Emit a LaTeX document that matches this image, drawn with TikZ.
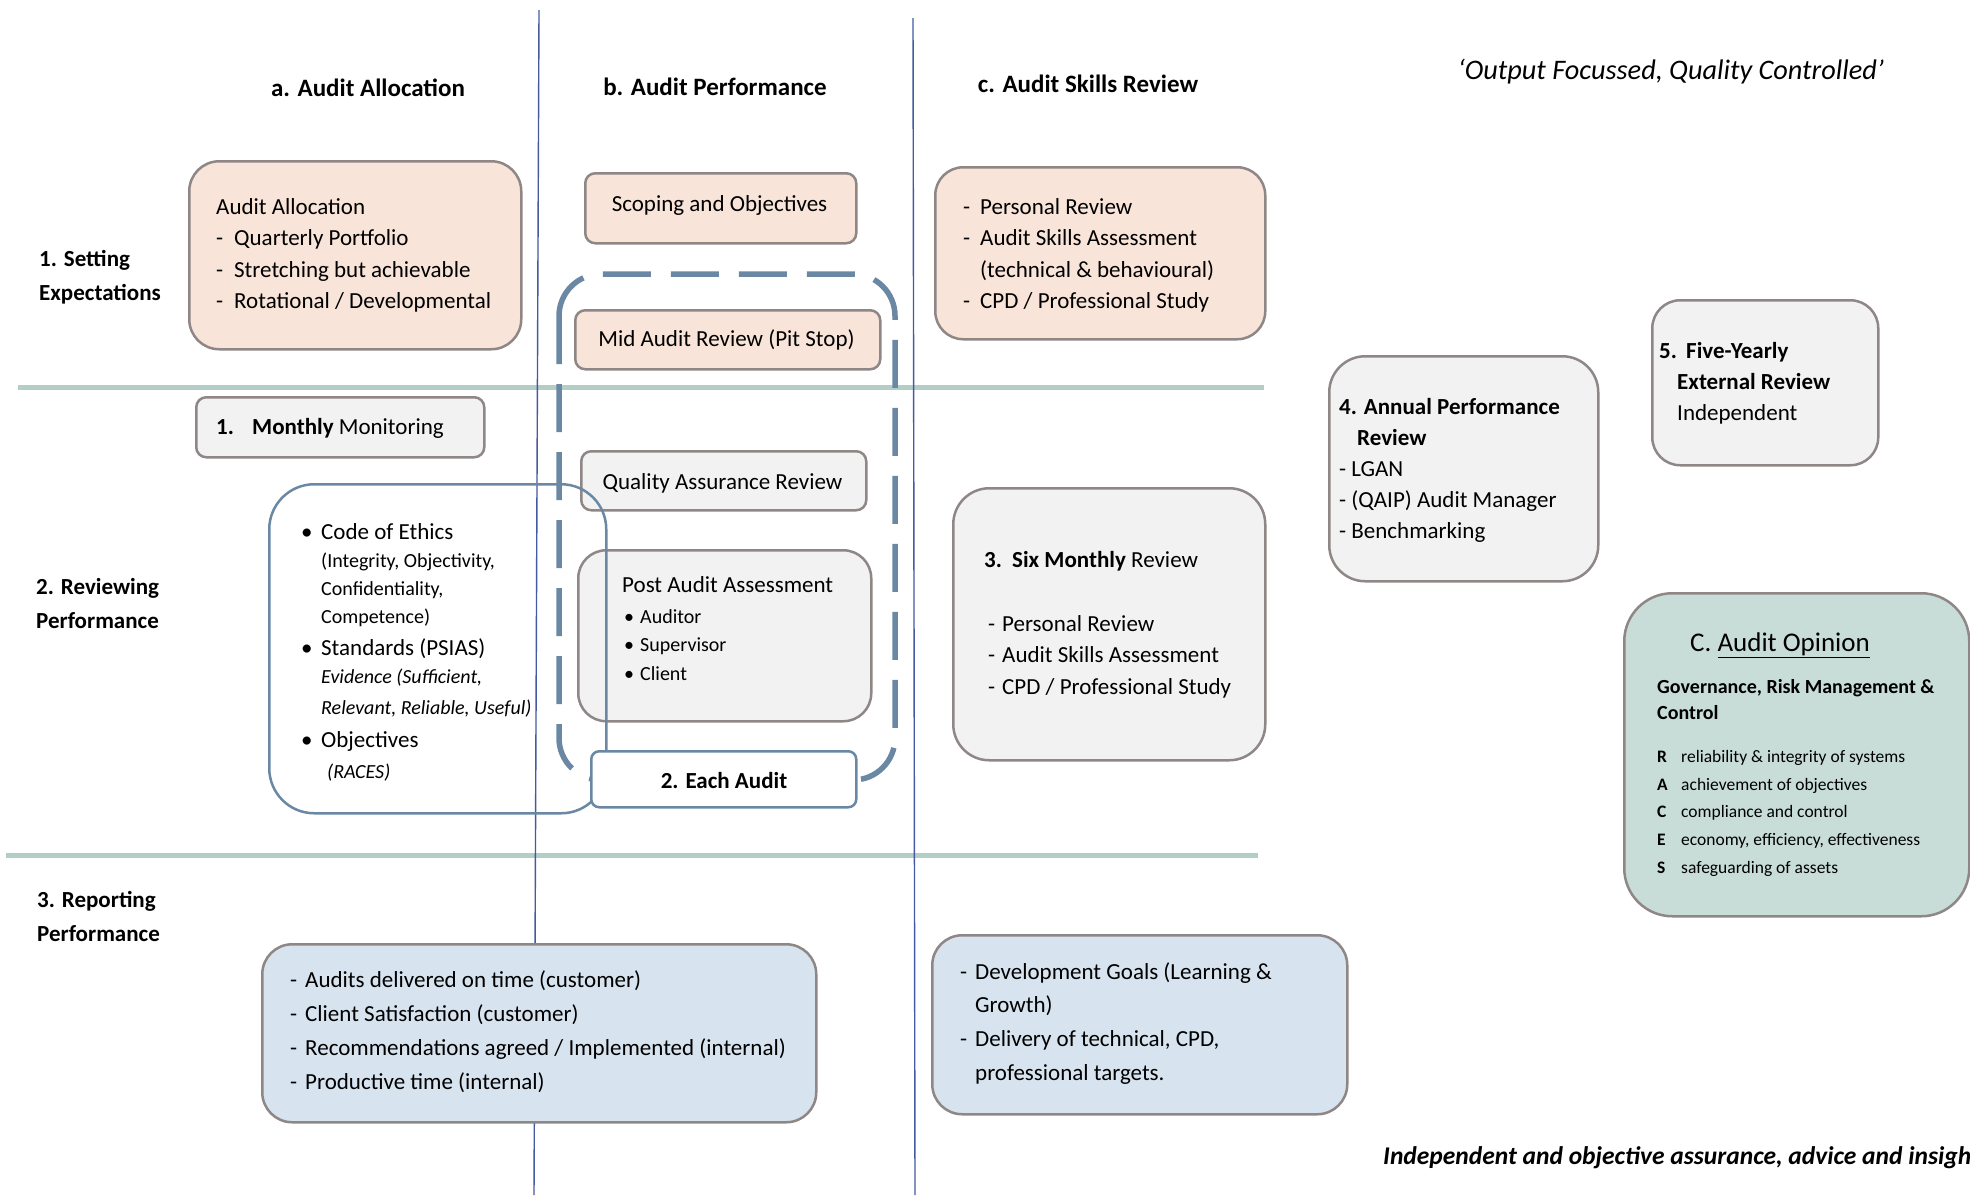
\documentclass[tikz,border=0pt]{standalone}
\usepackage{fontspec}
\setmainfont{Carlito}
\definecolor{peach}{HTML}{F8E4D8}
\definecolor{grayfill}{HTML}{F2F2F2}
\definecolor{bluefill}{HTML}{D7E3EE}
\definecolor{greenfill}{HTML}{C9DDD8}
\definecolor{bordc}{HTML}{8F8686}
\definecolor{steel}{HTML}{6A88A3}
\definecolor{vline}{HTML}{4459A0}
\definecolor{hline}{HTML}{B3CEC7}
\newcommand\dsh[1][18pt]{\makebox[#1][l]{-}}
\newcommand\bul[1][13pt]{\makebox[#1][l]{•}}
\tikzset{
  box/.style={draw=bordc, line width=2.5pt, inner sep=0pt, anchor=north west},
  ml/.style={inner sep=0pt, anchor=north west, align=left},
  tx/.style={inner sep=0pt, anchor=base west, font=\fontsize{23pt}{31.5pt}\selectfont},
  txs/.style={inner sep=0pt, anchor=base west, font=\fontsize{20pt}{28pt}\selectfont},
  hdr/.style={inner sep=0pt, font=\fontsize{25pt}{30pt}\selectfont\bfseries},
  sep/.style={draw=hline, line width=5pt},
  col/.style={draw=vline, line width=1.4pt},
  dashedb/.style={draw=steel, line width=5.5pt, dash pattern=on 48pt off 20pt}
}
\begin{document}
\begin{tikzpicture}[x=1pt,y=-1pt]
\useasboundingbox (0,0) rectangle (1970,1195);
\clip (0,0) rectangle (1970,1195);

% separator lines
\coordinate (h1a) at (18,387); \coordinate (h1b) at (1264,387);
\coordinate (h2a) at (6,855);  \coordinate (h2b) at (1258,855);
\draw[sep] (h1a) -- (h1b);
\draw[sep] (h2a) -- (h2b);
\coordinate (v1a) at (539,10); \coordinate (v1b) at (534,1195);
\coordinate (v2a) at (913,18); \coordinate (v2b) at (915,1195);
\draw[col] (v1a) -- (v1b);
\draw[col] (v2a) -- (v2b);

% dashed "each audit" loop
\coordinate (dl) at (559,274); \coordinate (dr) at (895,780);
\draw[dashedb, rounded corners=42pt] (dl) rectangle (dr);

% boxes
\node[box, fill=peach, rounded corners=30pt, minimum width=332pt, minimum height=188pt] (aabox) at (188,160) {};
\node[box, fill=peach, rounded corners=10pt, minimum width=271pt, minimum height=70pt] (scbox) at (584,172) {};
\node[box, fill=peach, rounded corners=10pt, minimum width=305pt, minimum height=59pt] (mabox) at (574,309) {};
\node[box, fill=peach, rounded corners=28pt, minimum width=330pt, minimum height=172pt] (asbox) at (934,166) {};
\node[box, fill=grayfill, rounded corners=10pt, minimum width=288pt, minimum height=60pt] (mmbox) at (195,396) {};
\node[box, fill=grayfill, rounded corners=10pt, minimum width=285pt, minimum height=59pt] (qabox) at (580,450) {};
\node[box, fill=grayfill, rounded corners=28pt, minimum width=293pt, minimum height=171pt] (pabox) at (577,549) {};
\node[box, fill=grayfill, rounded corners=36pt, minimum width=312pt, minimum height=272pt] (smbox) at (952,487) {};
\node[box, fill=grayfill, rounded corners=36pt, minimum width=269pt, minimum height=225pt] (apbox) at (1328,355) {};
\node[box, fill=grayfill, rounded corners=28pt, minimum width=226pt, minimum height=165pt] (fybox) at (1651,299) {};
\node[box, fill=greenfill, rounded corners=48pt, minimum width=345pt, minimum height=323pt] (aobox) at (1623,592) {};
\node[box, fill=bluefill, rounded corners=30pt, minimum width=554pt, minimum height=178pt] (rpbox) at (261,943) {};
\node[box, fill=bluefill, rounded corners=30pt, minimum width=415pt, minimum height=179pt] (dgbox) at (931,934) {};
\node[box, draw=steel, rounded corners=45pt, minimum width=337pt, minimum height=329pt] (cebox) at (268,483) {};
\node[box, draw=steel, fill=white, rounded corners=8pt, minimum width=265pt, minimum height=56pt] (eabox) at (590,750) {};

% headers
\node[hdr] (ha) at (368,88) {a. Audit Allocation};
\node[hdr] (hb) at (715,87) {b. Audit Performance};
\node[hdr] (hc) at (1088,84) {c. Audit Skills Review};
\node[inner sep=0pt, font=\fontsize{28.3pt}{33pt}\selectfont\itshape] (quote) at (1671,72) {‘Output Focussed, Quality Controlled’};

% row labels
\node[ml, font=\fontsize{23pt}{34pt}\selectfont\bfseries] (r1) at (39,242.7) {\strut 1. Setting\\Expectations};
\node[ml, font=\fontsize{23pt}{34pt}\selectfont\bfseries] (r2) at (36,570.7) {\strut 2. Reviewing\\Performance};
\node[ml, font=\fontsize{23pt}{34pt}\selectfont\bfseries] (r3) at (37,883.7) {\strut 3. Reporting\\Performance};

% row 1 texts
\node[ml, font=\fontsize{23pt}{31.5pt}\selectfont] (aat) at (216,192) {\strut Audit Allocation\\\dsh Quarterly Portfolio\\\dsh Stretching but achievable\\\dsh Rotational / Developmental};
\node[inner sep=0pt, font=\fontsize{23pt}{28pt}\selectfont] (sct) at (719.5,205) {Scoping and Objectives};
\node[inner sep=0pt, font=\fontsize{23pt}{28pt}\selectfont] (mat) at (726.5,340) {Mid Audit Review (Pit Stop)};
\node[ml, font=\fontsize{23pt}{31.5pt}\selectfont] (ast) at (963,192) {\strut\dsh[17pt]Personal Review\\\dsh[17pt]Audit Skills Assessment\\\hspace*{17pt}(technical \& behavioural)\\\dsh[17pt]CPD / Professional Study};

% row 2 texts
\node[inner sep=0pt, anchor=west, font=\fontsize{23pt}{28pt}\selectfont] (mmt) at (216,428) {\makebox[36pt][l]{\bfseries 1.}\textbf{Monthly} Monitoring};
\node[inner sep=0pt, font=\fontsize{23pt}{28pt}\selectfont] (qat) at (722.5,483) {Quality Assurance Review};

\node[tx] (ce1) at (301,539) {\bul[20pt]Code of Ethics};
\node[txs] (ce2) at (321,567) {(Integrity, Objectivity,};
\node[txs] (ce3) at (321,595) {Confidentiality,};
\node[txs] (ce4) at (321,623) {Competence)};
\node[tx] (ce5) at (301,655) {\bul[20pt]Standards (PSIAS)};
\node[txs, font=\fontsize{20pt}{28pt}\selectfont\itshape] (ce6) at (321,683) {Evidence (Sufficient,};
\node[txs, font=\fontsize{20pt}{28pt}\selectfont\itshape] (ce7) at (321,714) {Relevant, Reliable, Useful)};
\node[tx] (ce8) at (301,747) {\bul[20pt]Objectives};
\node[txs, font=\fontsize{20pt}{28pt}\selectfont\itshape] (ce9) at (327,778) {(RACES)};

\node[tx] (pa1) at (622,592) {Post Audit Assessment};
\node[txs] (pa2) at (624,623) {\bul[16pt]Auditor};
\node[txs] (pa3) at (624,651) {\bul[16pt]Supervisor};
\node[txs] (pa4) at (624,680) {\bul[16pt]Client};

\node[inner sep=0pt, font=\fontsize{23pt}{28pt}\selectfont\bfseries] (eat) at (724,781) {2. Each Audit};

\node[tx] (sm1) at (984,567) {\makebox[28pt][l]{\bfseries 3.}\textbf{Six Monthly} Review};
\node[ml, font=\fontsize{23pt}{31.5pt}\selectfont] (sm2) at (988,609) {\strut\dsh[14pt]Personal Review\\\dsh[14pt]Audit Skills Assessment\\\dsh[14pt]CPD / Professional Study};

\node[ml, font=\fontsize{23pt}{31pt}\selectfont] (apt) at (1339,392.3) {\strut\textbf{4. Annual Performance}\\\hspace*{18pt}\textbf{Review}\\- LGAN\\- (QAIP) Audit Manager\\- Benchmarking};
\node[ml, font=\fontsize{23pt}{31pt}\selectfont] (fyt) at (1659,336.3) {\strut\textbf{\makebox[27pt][l]{5.}Five-Yearly}\\\hspace*{18pt}\textbf{External Review}\\\hspace*{18pt}Independent};

% audit opinion
\node[inner sep=0pt, anchor=base west, font=\fontsize{27pt}{32pt}\selectfont] (ao1) at (1690,651) {C. \underline{Audit Opinion}};
\node[inner sep=0pt, anchor=base west, font=\fontsize{20pt}{26pt}\selectfont\bfseries] (ao2) at (1657,693) {Governance, Risk Management \&};
\node[inner sep=0pt, anchor=base west, font=\fontsize{20pt}{26pt}\selectfont\bfseries] (ao3) at (1657,719) {Control};
\tikzset{rc/.style={inner sep=0pt, anchor=base west, font=\fontsize{17.5pt}{22pt}\selectfont}}
\node[rc] (aoR) at (1657,762) {\makebox[24pt][l]{\bfseries R}reliability \& integrity of systems};
\node[rc] (aoA) at (1657,790) {\makebox[24pt][l]{\bfseries A}achievement of objectives};
\node[rc] (aoC) at (1657,817) {\makebox[24pt][l]{\bfseries C}compliance and control};
\node[rc] (aoE) at (1657,845) {\makebox[24pt][l]{\bfseries E}economy, efficiency, effectiveness};
\node[rc] (aoS) at (1657,873) {\makebox[24pt][l]{\bfseries S}safeguarding of assets};

% row 3 texts
\node[ml, font=\fontsize{23pt}{34pt}\selectfont] (rpt) at (290,963.2) {\strut\dsh[15pt]Audits delivered on time (customer)\\\dsh[15pt]Client Satisfaction (customer)\\\dsh[15pt]Recommendations agreed / Implemented (internal)\\\dsh[15pt]Productive time (internal)};
\node[ml, font=\fontsize{23pt}{33.7pt}\selectfont] (dgt) at (960,955.4) {\strut\dsh[15pt]Development Goals (Learning \&\\\hspace*{15pt}Growth)\\\dsh[15pt]Delivery of technical, CPD,\\\hspace*{15pt}professional targets.};

\node[inner sep=0pt, anchor=west, font=\fontsize{25.5pt}{30pt}\selectfont\bfseries\itshape] (foot) at (1383,1158) {Independent and objective assurance, advice and insight};
\end{tikzpicture}
\end{document}
